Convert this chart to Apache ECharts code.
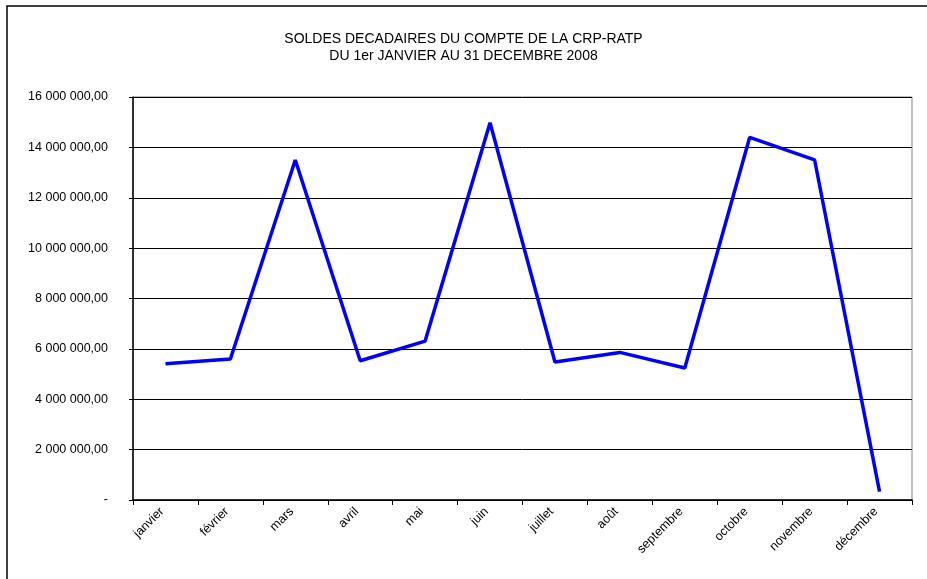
<!DOCTYPE html>
<html>
<head>
<meta charset="utf-8">
<script src="https://cdn.jsdelivr.net/npm/echarts@6/dist/echarts.min.js"></script>
<style>
  html, body { margin: 0; padding: 0; background: #fff; }
  #chart { width: 927px; height: 579px; }
</style>
</head>
<body>
<div id="chart"></div>
<script>
// mois
const months = ['janvier', 'février', 'mars', 'avril', 'mai', 'juin',
  'juillet', 'août', 'septembre', 'octobre', 'novembre', 'décembre']
// soldes (euros)
const soldes = [5410000, 5600000, 13500000, 5530000, 6310000, 14980000,
  5480000, 5860000, 5240000, 14400000, 13500000, 330000]
const titleLines = ['SOLDES DECADAIRES DU COMPTE DE LA CRP-RATP', 'DU 1er JANVIER AU 31 DECEMBRE 2008']

const fmt = v => {
  if (v === 0) return '-'
  return String(Math.round(v)).replace(/\B(?=(\d{3})+(?!\d))/g, ' ') + ',00'
}

const chart = echarts.init(document.getElementById('chart'))
chart.setOption({
  animation: false,
  textStyle: { fontFamily: 'Liberation Sans, Arial, sans-serif' },
  title: {
    text: titleLines.join('\n'),
    left: 'center',
    top: 26,
    textStyle: { fontSize: 14, fontWeight: 'normal', color: '#000', lineHeight: 17 }
  },
  graphic: [{
    type: 'rect',
    shape: { x: 7, y: 6, width: 940, height: 600 },
    style: { fill: 'none', stroke: '#000', lineWidth: 1.5 },
    silent: true
  }],
  grid: {
    left: 133, right: 15, top: 97, bottom: 79,
    show: true, borderColor: '#808080', borderWidth: 1
  },
  xAxis: {
    type: 'category',
    data: months,
    boundaryGap: true,
    axisLine: { lineStyle: { color: '#000', width: 1.5 } },
    axisTick: { show: true, length: 5, alignWithLabel: false, lineStyle: { color: '#000' } },
    axisLabel: { rotate: 45, interval: 0, fontSize: 12.5, color: '#000', margin: 6, padding: [0, 5, 0, 0] }
  },
  yAxis: {
    type: 'value',
    min: 0, max: 16000000, interval: 2000000,
    axisLine: { show: true, lineStyle: { color: '#000', width: 1.5 } },
    axisTick: { show: true, length: 4, lineStyle: { color: '#000' } },
    axisLabel: { fontSize: 12.5, color: '#000', margin: 25, formatter: fmt },
    splitLine: { lineStyle: { color: '#000', width: 1 } }
  },
  series: [{
    type: 'line',
    data: soldes,
    symbol: 'none',
    lineStyle: { color: '#0000ff', width: 3.5 }
  }]
})
</script>
</body>
</html>
